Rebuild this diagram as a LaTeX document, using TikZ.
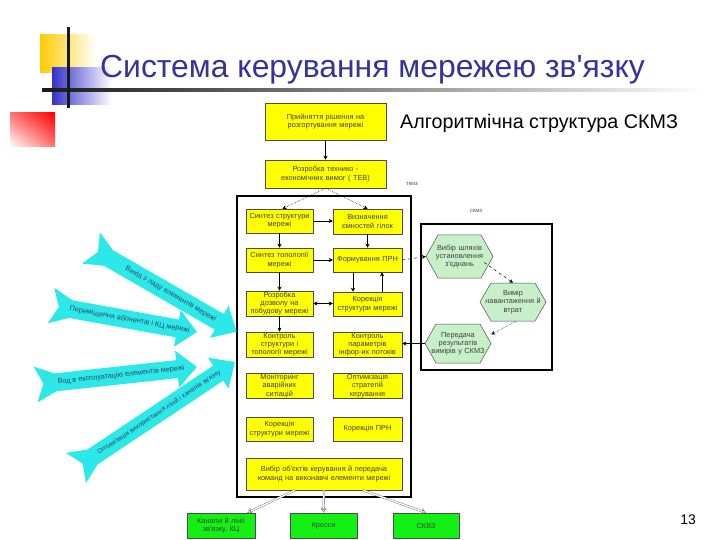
\documentclass[tikz,border=0pt]{standalone}
\usepackage{fontspec}
\setmainfont{Liberation Sans}
\usetikzlibrary{arrows.meta,calc,shadings}
\definecolor{boxyellow}{RGB}{255,255,0}
\definecolor{boxgreen}{RGB}{20,240,20}
\definecolor{hexgreen}{RGB}{200,240,200}
\definecolor{arrowcyan}{RGB}{45,232,232}
\definecolor{titleblue}{RGB}{51,51,153}
\definecolor{decoyellow}{RGB}{255,204,0}
\definecolor{decoblue}{RGB}{51,51,204}
\definecolor{arrowtextcol}{RGB}{50,70,100}
\newcommand\apo{\textquotesingle}
\newcommand\cyanarrow[6]{%
  \begin{scope}[shift={(#1,#2)}, rotate=#3]
    \fill[arrowcyan] (0,18) -- (20,9) -- (#4-20,9) -- (#4-20,18.5) -- (#4,0)
      -- (#4-20,-18.5) -- (#4-20,-9) -- (20,-9) -- (0,-18) -- (8,0) -- cycle;
    \node[arrowtext, rotate=#3] at (#5,0) {#6};
  \end{scope}}
\newcommand\hexpoly[5]{%
  \filldraw[hexshape] (#1-#3/2,#2) -- (#1-#3/2+#5,#2-#4/2) -- (#1+#3/2-#5,#2-#4/2)
    -- (#1+#3/2,#2) -- (#1+#3/2-#5,#2+#4/2) -- (#1-#3/2+#5,#2+#4/2) -- cycle;}
\begin{document}
\begin{tikzpicture}[x=1bp,y=-1bp,
  ybox/.style={draw=black!70, line width=0.5bp, fill=boxyellow, text=black!75,
    font=\fontsize{7.4}{8.3}\selectfont, align=center, inner sep=1bp},
  gbox/.style={draw=black!70, line width=0.5bp, fill=boxgreen, text=black!75,
    font=\fontsize{7.4}{8.3}\selectfont, align=center, inner sep=1bp},
  hexshape/.style={draw=black!70, line width=0.5bp, fill=hexgreen},
  hexn/.style={text=black!75, font=\fontsize{7.4}{8.3}\selectfont, align=center, inner sep=0},
  framebox/.style={draw=black, line width=1.5bp, inner sep=0},
  arrowtext/.style={text=arrowtextcol, font=\fontsize{7.3}{8}\selectfont, inner sep=0},
  con/.style={draw=black, line width=0.5bp, -{Stealth[length=4bp,width=4bp]}},
  dcon/.style={con, densely dotted},
  dashcon/.style={con, dashed},
  hollow/.style={draw=black!60, double=white, double distance=1.3bp, line width=0.4bp,
    -{Stealth[open,length=5bp,width=6bp]}},
  tinylabel/.style={font=\fontsize{4.5}{5}\selectfont, text=black!80, inner sep=0}
]
\useasboundingbox (0,0) rectangle (720,540);
\fill[white] (0,0) rectangle (720,540);

% decoration
\shade[left color=decoyellow, middle color=decoyellow, right color=white] (40,35) rectangle (96,73);
\shade[left color=decoblue, middle color=decoblue, right color=white] (52,68) rectangle (112,105);
\shade[upper right=red, upper left=red!55!white, lower right=red!55!white, lower left=white] (10,113) rectangle (55,147);
\shade[left color=black!90, middle color=black!45, right color=white] (42,88.5) rectangle (705,91.5);
\fill[black!90] (67.3,27) rectangle (69.8,108);

% title
\node[anchor=base west, text=titleblue, font=\fontsize{32}{35}\selectfont, inner sep=0] (title) at (100,78) {Система керування мережею зв\apo язку};
\node[anchor=base west, text=black, font=\fontsize{19.8}{22}\selectfont, inner sep=0] (subtitle) at (400,129) {Алгоритмічна структура СКМЗ};
\node[font=\fontsize{14}{16}\selectfont, inner sep=0] (pagenum) at (688,520) {13};

% frames
\node[framebox, minimum width=174bp, minimum height=301bp] (frameA) at (324,346.5) {};
\node[framebox, minimum width=131bp, minimum height=146bp] (frameB) at (486.5,297) {};
\node[tinylabel] (labA) at (412,184) {ТКМЗ};
\node[tinylabel] (labB) at (476,211) {СКМЗ};

% top boxes
\node[ybox, minimum width=121bp, minimum height=37bp, text width=110bp] (b1) at (325.5,121.5) {Прийняття рішення на\\розгортування мережі};
\node[ybox, minimum width=121bp, minimum height=28bp, text width=110bp] (b2) at (325.5,174) {Розробка технико -\\економічних вимог ( ТЕВ)};

% left column
\node[ybox, minimum width=67bp, minimum height=24bp, text width=65bp] (l1) at (279.5,221) {Синтез структури\\мережі};
\node[ybox, minimum width=67bp, minimum height=24bp, text width=65bp] (l2) at (279.5,260) {Синтез тополопії\\мережі};
\node[ybox, minimum width=67bp, minimum height=23bp, text width=65bp] (l3) at (279.5,303.5) {Розробка\\дозволу на\\побудову мережі};
\node[ybox, minimum width=67bp, minimum height=25bp, text width=65bp] (l4) at (279.5,344.5) {Контроль\\структури і\\топології мережі};
\node[ybox, minimum width=67bp, minimum height=24bp, text width=65bp] (l5) at (279.5,386) {Моніторинг\\аварійних\\ситіацій};
\node[ybox, minimum width=67bp, minimum height=24bp, text width=65bp] (l6) at (279.5,429) {Корекція\\структури мережі};

% right column
\node[ybox, minimum width=69bp, minimum height=25bp, text width=67bp] (r1) at (367.5,221.5) {Визначення\\ємностей гілок};
\node[ybox, minimum width=69bp, minimum height=24bp, text width=67bp] (r2) at (367.5,260) {Формування ПРН};
\node[ybox, minimum width=69bp, minimum height=24bp, text width=67bp] (r3) at (367.5,304) {Корекція\\структури мережі};
\node[ybox, minimum width=69bp, minimum height=25bp, text width=67bp] (r4) at (367.5,344.5) {Контроль\\параметрів\\інфор-их потоків};
\node[ybox, minimum width=69bp, minimum height=24bp, text width=67bp] (r5) at (367.5,386) {Оптимізація\\стратегій\\керування};
\node[ybox, minimum width=69bp, minimum height=24bp, text width=67bp] (r6) at (367.5,429) {Корекція ПРН};

\node[ybox, minimum width=156bp, minimum height=32bp, text width=150bp] (bb) at (324,474) {Вибір об\apo єктів керування й передача\\команд на виконавчі елементи мережі};

% hexagons
\hexpoly{459.5}{256.5}{67}{43}{12}
\hexpoly{513}{302}{66}{38}{11}
\hexpoly{458}{343.5}{66}{39}{11}
\node[hexn, minimum width=67bp, minimum height=43bp, text width=60bp] (h1) at (459.5,256.5) {Вибір шляхів\\установлення\\з\apo єднань};
\node[hexn, minimum width=66bp, minimum height=38bp, text width=60bp] (h2) at (513,302) {Вимір\\навантаження й\\втрат};
\node[hexn, minimum width=66bp, minimum height=39bp, text width=60bp] (h3) at (458,343.5) {Передача\\результатів\\вимірів у СКМЗ};

% green boxes
\node[gbox, minimum width=68bp, minimum height=25bp, text width=64bp] (g1) at (221,525.5) {Канали й лінії\\зв\apo язку, КЦ};
\node[gbox, minimum width=67bp, minimum height=25bp, text width=64bp] (g2) at (323.5,525.5) {Кросси};
\node[gbox, minimum width=66bp, minimum height=25bp, text width=64bp] (g3) at (426,525.5) {СКВЗ};

% connectors
\draw[con] (b1) -- (b2);
\draw[dcon] (b2.south) -- ($(l1.north)+(3,0)$);
\draw[dcon] (b2.south) -- (r1.north);
\draw[con] (l1) -- (l1 -| r1.west);
\draw[con] (r1) -- (r2);
\draw[con] (l1) -- (l2);
\draw[con] (l2) -- (l2 -| r2.west);
\draw[con] ($(r2.south)+(-14.5,0)$) -- ($(r3.north)+(-14.5,0)$);
\draw[con] ($(r3.north)+(14.5,0)$) -- ($(r2.south)+(14.5,0)$);
\draw[con] (l2) -- (l3);
\draw[con, {Stealth[length=4bp,width=4bp]}-{Stealth[length=4bp,width=4bp]}] (l3) -- (l3 -| r3.west);
\draw[con] (l3) -- (l4);
\draw[dashcon] (r2.east) -- (h1.west);
\draw[dashcon] ($(h1.east)+(-9,6)$) -- (h2.north);
\draw[dcon] ($(h2.south)+(3,0)$) -- ($(h3.east)+(0,-9)$);
\draw[con] (h3.west) -- (h3.west -| r4.east);

\draw[hollow] ($(bb.south)+(-29,0)$) -- ($(g1.north east)+(-8,0)$);
\draw[hollow] (bb.south) -- (g2.north);
\draw[hollow] ($(bb.south)+(39,0)$) -- (g3.north);

% cyan arrows
\cyanarrow{91}{248}{-29.9}{168}{92}{Вихід з ладу елементів мережі}
\cyanarrow{51}{305.5}{-10.3}{148.4}{80}{Переміщення абонентів і КЦ мережі}
\cyanarrow{35.5}{384.5}{6.2}{162.4}{86}{Вод в експлуатацію елементів мережі}
\cyanarrow{76}{468}{33.7}{191}{100}{\fontsize{6.6}{7}\selectfont Оптимізація використання ліній і каналів зв\apo язку}
\end{tikzpicture}
\end{document}
